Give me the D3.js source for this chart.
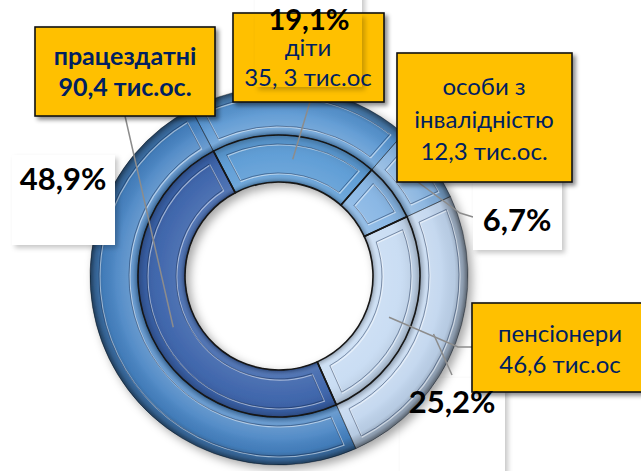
<!DOCTYPE html>
<html>
<head>
<meta charset="utf-8">
<script src="https://cdn.jsdelivr.net/npm/d3@7"></script>
<style>
  body { margin: 0; background: #fff; }
  svg { display: block; }
  text { font-family: Lato, 'Open Sans', sans-serif; }
</style>
</head>
<body>
<div id="chart"></div>
<script>
// data
var categories = ['працездатні', 'діти', 'особи з інвалідністю', 'пенсіонери'];
var values = [90.4, 35.3, 12.3, 46.6];
var shares = ['48,9%', '19,1%', '6,7%', '25,2%'];
var nameLines = [
  ['працездатні', '90,4 тис.ос.'],
  ['діти', '35, 3 тис.ос'],
  ['особи з', 'інвалідністю', '12,3 тис.ос.'],
  ['пенсіонери', '46,6 тис.ос']
];

var outerColors = ['#4683c3', '#5795d1', '#84b1de', '#c0d5ee'];
var innerColors = ['#3a62aa', '#5b9bd5', '#86b5e4', '#c8dcf3'];
var gold = '#ffc000';
var navy = '#002060';

var width = 641;
var height = 471;
var cx = 279, cy = 276;
var rHole = 94, rMid = 141, rOut = 189;
var startA = 156 * Math.PI / 180;

// label layout (boxes drawn around the ring)
var nameBoxes = [
  {x: 35, y: 27, w: 180, h: 89, tx: 125, ty: [65, 96], bold: true, lead: [[125, 116]]},
  {x: 233, y: 13, w: 151, h: 89, tx: 308, ty: [56, 86], lead: [[310, 102]]},
  {x: 397, y: 53, w: 175, h: 129, tx: 484, ty: [95, 128, 160], lead: null},
  {x: 472, y: 303, w: 180, h: 89, tx: 560, ty: [342, 373], lead: [[472, 347], [458, 347]]}
];
var shareBoxes = [
  {x: 12, y: 155, w: 103, h: 90, tx: 63, ty: 190, size: 31, lead: null, under: false},
  {x: 255, y: -10, w: 107, h: 97, tx: 309, ty: 30, size: 29, lead: null, under: false},
  {x: 473, y: 175, w: 89, h: 75, tx: 517, ty: 231, size: 31, lead: [[473, 217], [460, 213]], under: false},
  {x: 400, y: 378, w: 105, h: 95, tx: 452, ty: 413, size: 31, lead: [[452, 375]], under: true}
];

var svg = d3.select('#chart').append('svg')
  .attr('width', width)
  .attr('height', height);

svg.append('rect').attr('width', width).attr('height', height).attr('fill', '#fff');

var defs = svg.append('defs');

function dropShadow(id, dx, dy, sd, op) {
  defs.append('filter')
    .attr('id', id)
    .attr('x', '-20%').attr('y', '-20%').attr('width', '140%').attr('height', '140%')
    .append('feDropShadow')
    .attr('dx', dx).attr('dy', dy)
    .attr('stdDeviation', sd)
    .attr('flood-color', '#000')
    .attr('flood-opacity', op);
}
dropShadow('ringShadow', 4, 4, 5, 0.35);
dropShadow('boxShadow', 3, 3, 2, 0.45);
dropShadow('softShadow', 3, 3, 2.5, 0.22);

function tube(id, r, stops) {
  var g = defs.append('radialGradient')
    .attr('id', id)
    .attr('gradientUnits', 'userSpaceOnUse')
    .attr('cx', 0).attr('cy', 0).attr('r', r);
  stops.forEach(function(s) {
    g.append('stop')
      .attr('offset', s[0])
      .attr('stop-color', s[1])
      .attr('stop-opacity', s[2]);
  });
}
tube('tubeOuter', rOut, [
  [rMid / rOut, '#000', 0.28],
  [0.78, '#fff', 0.2],
  [0.86, '#fff', 0.08],
  [0.93, '#000', 0.05],
  [0.975, '#000', 0.28],
  [1, '#000', 0.55]
]);
tube('tubeInner', rMid, [
  [rHole / rMid, '#000', 0.3],
  [0.71, '#fff', 0.12],
  [0.86, '#fff', 0.04],
  [0.96, '#000', 0.08],
  [1, '#000', 0.25]
]);

var pie = d3.pie()
  .sort(null)
  .value(function(d) { return d; })
  .startAngle(startA)
  .endAngle(startA + 2 * Math.PI);

var slices = pie(values);

var innerMid = d3.arc().innerRadius(rHole).outerRadius(rMid);
var outerMid = d3.arc().innerRadius(rMid).outerRadius(rOut);

function drawBox(b, fill, filter, stroke) {
  svg.append('rect')
    .attr('x', b.x).attr('y', b.y)
    .attr('width', b.w).attr('height', b.h)
    .attr('fill', fill)
    .attr('stroke', stroke || 'none')
    .attr('stroke-width', stroke ? 1.6 : 0)
    .attr('filter', 'url(#' + filter + ')');
}

// white box partly hidden by the ring
shareBoxes.forEach(function(b) { if (b.under) drawBox(b, '#fff', 'softShadow'); });

/// Rings
var rings = [
  {r0: rMid, r1: rOut, colors: outerColors, grad: 'tubeOuter', edge: 'rgba(0,0,0,0.35)', edgeW: 1},
  {r0: rHole, r1: rMid, colors: innerColors, grad: 'tubeInner', edge: '#151515', edgeW: 1.6}
];

var chartG = svg.append('g')
  .attr('transform', 'translate(' + cx + ',' + cy + ')')
  .attr('filter', 'url(#ringShadow)');

rings.forEach(function(ring) {
  var arc = d3.arc().innerRadius(ring.r0).outerRadius(ring.r1);
  var panel = d3.arc().innerRadius(ring.r0 + 9).outerRadius(ring.r1 - 9)
    .padRadius(100).padAngle(0.2);
  var g = chartG.append('g');

  g.selectAll('path.base').data(slices).join('path')
    .attr('class', 'base')
    .attr('d', arc)
    .attr('fill', function(d, i) { return ring.colors[i]; });

  g.selectAll('path.shade').data(slices).join('path')
    .attr('class', 'shade')
    .attr('d', arc)
    .attr('fill', 'url(#' + ring.grad + ')');

  // embossed inset panel
  g.selectAll('path.hi').data(slices).join('path')
    .attr('class', 'hi')
    .attr('d', panel)
    .attr('fill', 'none')
    .attr('stroke', 'rgba(255,255,255,0.5)')
    .attr('stroke-width', 1.2)
    .attr('transform', 'translate(1,1)');

  g.selectAll('path.lo').data(slices).join('path')
    .attr('class', 'lo')
    .attr('d', panel)
    .attr('fill', 'none')
    .attr('stroke', 'rgba(15,35,70,0.45)')
    .attr('stroke-width', 1);

  g.selectAll('path.edge').data(slices).join('path')
    .attr('class', 'edge')
    .attr('d', arc)
    .attr('fill', 'none')
    .attr('stroke', ring.edge)
    .attr('stroke-width', ring.edgeW);
});

/// Leader lines
var line = d3.line();
function leader(pts, slice, arcGen) {
  var c = arcGen.centroid(slice);
  var all = pts.concat([[c[0] + cx, c[1] + cy]]);
  svg.append('path')
    .attr('d', line(all))
    .attr('fill', 'none')
    .attr('stroke', '#8c8c8c')
    .attr('stroke-width', 1.5);
}
nameBoxes.forEach(function(b, i) { if (b.lead) leader(b.lead, slices[i], innerMid); });
shareBoxes.forEach(function(b, i) { if (b.lead) leader(b.lead, slices[i], outerMid); });

/// Percentage label boxes
shareBoxes.forEach(function(b) { if (!b.under) drawBox(b, '#fff', 'softShadow'); });

/// Name label boxes
nameBoxes.forEach(function(b) { drawBox(b, gold, 'boxShadow', '#111'); });

// overlapped gold area under the 19,1% label
svg.append('rect')
  .attr('x', shareBoxes[1].x).attr('y', nameBoxes[1].y + 1)
  .attr('width', shareBoxes[1].w)
  .attr('height', shareBoxes[1].y + shareBoxes[1].h - nameBoxes[1].y - 1)
  .attr('fill', gold)
  .attr('filter', 'url(#softShadow)');

nameBoxes.forEach(function(b, i) {
  var t = svg.append('text')
    .attr('text-anchor', 'middle')
    .attr('fill', navy)
    .attr('font-size', b.bold ? '25px' : '24px')
    .attr('font-weight', b.bold ? 'bold' : 'normal');
  nameLines[i].forEach(function(s, k) {
    t.append('tspan').attr('x', b.tx).attr('y', b.ty[k]).text(s);
  });
});

shareBoxes.forEach(function(b, i) {
  svg.append('text')
    .attr('x', b.tx).attr('y', b.ty)
    .attr('text-anchor', 'middle')
    .attr('fill', '#000')
    .attr('font-size', b.size + 'px')
    .attr('font-weight', 'bold')
    .text(shares[i]);
});
</script>
</body>
</html>
